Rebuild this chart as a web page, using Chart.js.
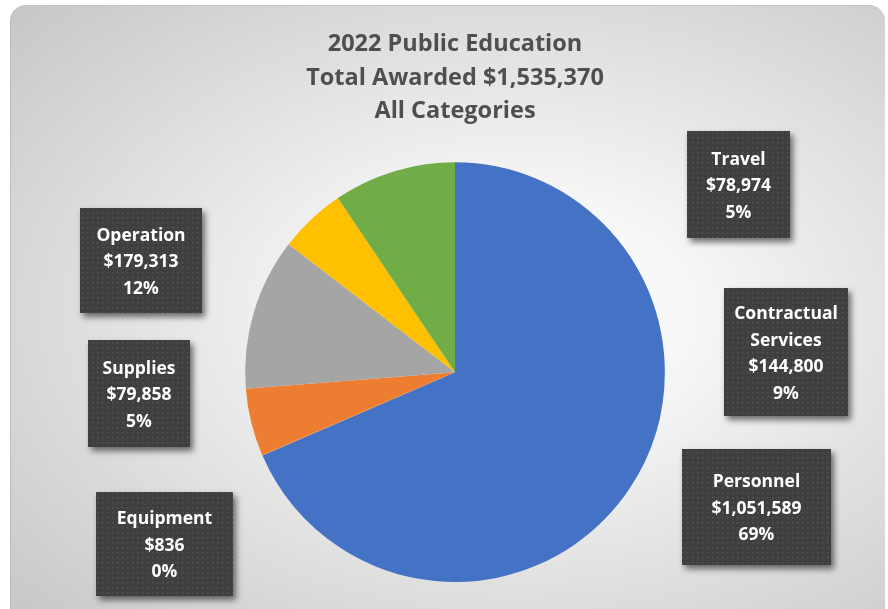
<!DOCTYPE html>
<html>
<head>
<meta charset="utf-8">
<script src="https://cdn.jsdelivr.net/npm/chart.js@4.4.0/dist/chart.umd.min.js"></script>
<style>
  html, body { margin: 0; padding: 0; background: #fff; overflow: hidden; }
  #card {
    position: absolute; left: 10px; top: 5px; width: 874px; height: 640px;
    border-radius: 16px;
    border-left: 1px solid #bdbdbd; border-top: 1px solid #c4c4c4;
    background: radial-gradient(ellipse farthest-corner at 58% 48%, #ffffff 0%, #f6f6f6 25%, #c4c4c4 100%);
  }
  #wrap { position: absolute; left: 0; top: 0; width: 888px; height: 609px; }
</style>
</head>
<body>
<div id="card"></div>
<div id="wrap"><canvas id="pieChart" width="888" height="609"></canvas></div>
<script>
const categories = ['Personnel', 'Equipment', 'Supplies', 'Operation', 'Travel', 'Contractual Services'];
const amounts = [1051589, 836, 79858, 179313, 78974, 144800];
const percentLabels = ['69%', '0%', '5%', '12%', '5%', '9%'];
const titleLines = ['2022 Public Education', 'Total Awarded $1,535,370', 'All Categories'];

const sliceColors = ['#4472C4', '#ED7D31', '#ED7D31', '#A5A5A5', '#FFC000', '#70AD47'];

// where each callout box sits (Excel placed these by hand)
const boxLayout = [
    { x: 682, y: 449, w: 149, h: 116 },
    { x: 96, y: 492, w: 137, h: 104 },
    { x: 88, y: 340, w: 102, h: 107 },
    { x: 80, y: 208, w: 122, h: 105 },
    { x: 687, y: 131, w: 103, h: 107 },
    { x: 724, y: 288, w: 124, h: 128 }
];

function makeDotPattern(ctx) {
    const tile = document.createElement('canvas');
    tile.width = 5;
    tile.height = 5;
    const t = tile.getContext('2d');
    t.fillStyle = '#3f3f3f';
    t.fillRect(0, 0, 5, 5);
    t.fillStyle = '#555555';
    t.fillRect(2, 2, 1.5, 1.5);
    return ctx.createPattern(tile, 'repeat');
}

const calloutPlugin = {
    id: 'callouts',
    afterDraw(chart) {
        const ctx = chart.ctx;
        const pattern = makeDotPattern(ctx);
        categories.forEach((name, i) => {
            const b = boxLayout[i];
            ctx.save();
            ctx.shadowColor = 'rgba(0,0,0,0.55)';
            ctx.shadowBlur = 6;
            ctx.shadowOffsetX = 3;
            ctx.shadowOffsetY = 4;
            ctx.fillStyle = pattern;
            ctx.fillRect(b.x, b.y, b.w, b.h);
            ctx.restore();

            const lines = name.split(' ');
            lines.push('$' + amounts[i].toLocaleString('en-US'));
            lines.push(percentLabels[i]);
            const lh = 26.5;
            const cx = b.x + b.w / 2;
            let y = b.y + b.h / 2 - (lines.length - 1) * lh / 2;
            ctx.save();
            ctx.fillStyle = '#ffffff';
            ctx.font = 'bold 17.5px "Open Sans", sans-serif';
            ctx.textAlign = 'center';
            ctx.textBaseline = 'middle';
            lines.forEach(l => {
                ctx.fillText(l, cx, y + 2);
                y += lh;
            });
            ctx.restore();
        });
    }
};

const ctx = document.getElementById('pieChart').getContext('2d');
let chart = new Chart(ctx, {
    type: 'pie',
    data: {
        labels: categories,
        datasets: [{
            data: amounts,
            backgroundColor: sliceColors,
            borderWidth: 0
        }]
    },
    options: {
        responsive: false,
        animation: false,
        layout: {
            padding: { left: 22, right: 0, top: 10, bottom: 27 }
        },
        plugins: {
            legend: { display: false },
            tooltip: { enabled: false },
            title: {
                display: true,
                text: titleLines,
                color: '#4f4f4f',
                font: { family: '"Open Sans", sans-serif', size: 23.5, weight: 'bold', lineHeight: 1.43 },
                padding: { top: 17.5, bottom: 34 }
            }
        }
    },
    plugins: [calloutPlugin]
});
</script>
</body>
</html>
